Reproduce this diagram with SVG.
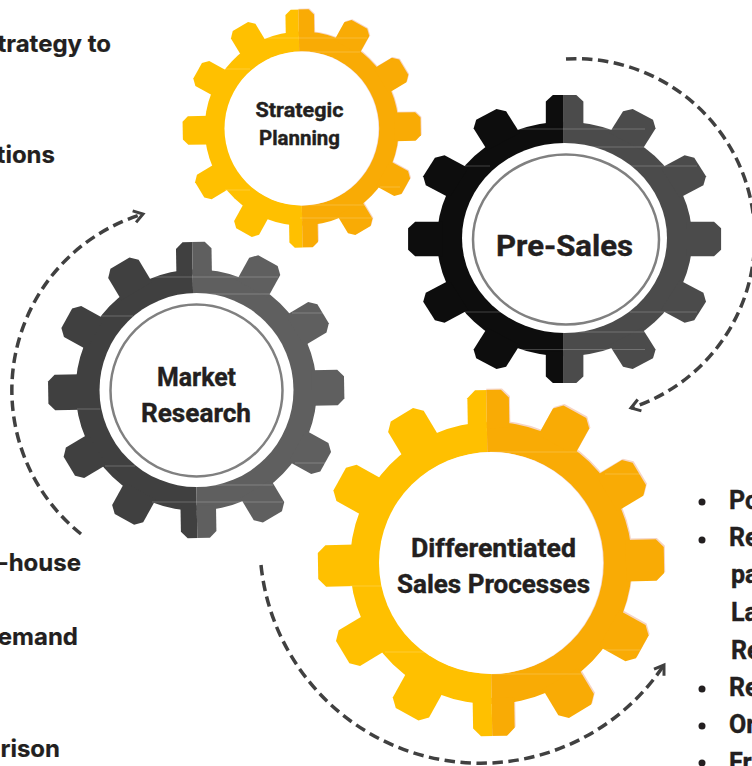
<svg xmlns="http://www.w3.org/2000/svg" width="752" height="766" viewBox="0 0 752 766">
  <style>
    text { font-family: Roboto, "Liberation Sans", sans-serif; font-weight: 700; fill: #231F20; stroke: #231F20; stroke-width: .4px; }
    .side { font-family: Inter, Roboto, sans-serif; font-size: 24px; text-anchor: end; stroke-width: .2px; }
    .list { font-size: 25px; }
    .lbl { text-anchor: middle; }
    .arc { fill: none; stroke: #404040; stroke-width: 3.5; stroke-dasharray: 10.500 5.500; }
    .seam { stroke: #fff; stroke-opacity: .22; stroke-width: 1; fill: none; }
    .seamy { stroke: #fff; stroke-opacity: .2; stroke-width: 1; fill: none; }
    .ring { fill: none; stroke: #808080; stroke-width: 2.500; }
    .bullet { fill: #231F20; }
  </style>
  <defs>
    <path id="tooth" d="M-12-78V-95.500L-7.500-100H7.500L12-95.500V-78Z"/>
    <g id="gear">
      <circle r="81.500"/>
      <use href="#tooth"/>
      <use href="#tooth" transform="rotate(30)"/>
      <use href="#tooth" transform="rotate(60)"/>
      <use href="#tooth" transform="rotate(90)"/>
      <use href="#tooth" transform="rotate(120)"/>
      <use href="#tooth" transform="rotate(150)"/>
      <use href="#tooth" transform="rotate(180)"/>
      <use href="#tooth" transform="rotate(210)"/>
      <use href="#tooth" transform="rotate(240)"/>
      <use href="#tooth" transform="rotate(270)"/>
      <use href="#tooth" transform="rotate(300)"/>
      <use href="#tooth" transform="rotate(330)"/>
    </g>
    <clipPath id="leftHalf"><rect x="-110" y="-110" width="109" height="220"/></clipPath>
    <clipPath id="rightHalf"><rect x="-1" y="-110" width="111" height="220"/></clipPath>
    <marker id="chev" markerUnits="userSpaceOnUse" markerWidth="18" markerHeight="18" refX="13" refY="9" orient="auto">
      <path d="M4 3L13 9L4 15" fill="none" stroke="#404040" stroke-width="3"/>
    </marker>
  </defs>

  <g id="connectors">
    <path class="arc" marker-end="url(#chev)" d="M566 59A179 179 0 0 1 631 408"/>
    <path class="arc" marker-end="url(#chev)" d="M81 534A184 184 0 0 1 143 214"/>
    <path class="arc" marker-end="url(#chev)" d="M261 565A220.600 220.600 0 0 0 664 665"/>
  </g>

  <g id="strategic-planning">
    <g transform="translate(301.700 128.500) rotate(-1) scale(1.190)">
      <g clip-path="url(#rightHalf)"><use href="#gear" fill="#F6D5C5" transform="translate(.7 -.7)"/></g>
      <g clip-path="url(#leftHalf)"><use href="#gear" fill="#FFC000"/></g>
      <g clip-path="url(#rightHalf)"><use href="#gear" fill="#F9AB05"/></g>
    </g>
    <circle cx="302.200" cy="128.500" r="77" fill="#F3D6CC"/>
    <circle cx="301.500" cy="128.500" r="77" fill="#fff"/>
    <path class="seamy" d="M265 38H367M300 52H360M225 69H250M225 190H250M380 187H400M300 205H365M300 218H372"/>
    <text class="lbl" x="299.500" y="117" font-size="20.500" textLength="88" lengthAdjust="spacingAndGlyphs">Strategic</text>
    <text class="lbl" x="299.500" y="145" font-size="20.500" textLength="81" lengthAdjust="spacingAndGlyphs">Planning</text>
  </g>

  <g id="pre-sales">
    <g transform="translate(564.600 239) scale(1.565 1.440)">
      <g clip-path="url(#leftHalf)"><use href="#gear" fill="#0D0D0D"/></g>
      <g clip-path="url(#rightHalf)"><use href="#gear" fill="#4B4B4B"/></g>
    </g>
    <ellipse cx="564.500" cy="238" rx="102.500" ry="95" fill="#fff"/>
    <ellipse class="ring" cx="566" cy="239.500" rx="93" ry="85"/>
    <path class="seam" d="M517 129H645M590 147H645M465 166H490M630 166H697M465 312H500M630 312H697M563 332H645M517 349.500H645"/>
    <text class="lbl" x="564.500" y="256" font-size="30" textLength="137" lengthAdjust="spacingAndGlyphs">Pre-Sales</text>
  </g>

  <g id="market-research">
    <g transform="translate(196.200 390) rotate(-1) scale(1.480)">
      <g clip-path="url(#leftHalf)"><use href="#gear" fill="#404040"/></g>
      <g clip-path="url(#rightHalf)"><use href="#gear" fill="#5F5F5F"/></g>
    </g>
    <circle cx="196.500" cy="390" r="97" fill="#fff"/>
    <circle class="ring" cx="196.500" cy="390.500" r="86"/>
    <path class="seam" d="M150 277H278M193 294H270M100 316H133M292 313H325M77 409H100M105 466H135M295 463H330M197 485H273M152 502H283"/>
    <text class="lbl" x="196.500" y="386" font-size="26" textLength="79" lengthAdjust="spacingAndGlyphs">Market</text>
    <text class="lbl" x="196" y="422" font-size="26" textLength="110" lengthAdjust="spacingAndGlyphs">Research</text>
  </g>

  <g id="differentiated-sales-processes">
    <g transform="translate(491 563) rotate(-1) scale(1.730)">
      <g clip-path="url(#rightHalf)"><use href="#gear" fill="#F6D5C5" transform="translate(.6 -.8)"/></g>
      <g clip-path="url(#leftHalf)"><use href="#gear" fill="#FFC000"/></g>
      <g clip-path="url(#rightHalf)"><use href="#gear" fill="#F9AB05"/></g>
    </g>
    <ellipse cx="491.800" cy="563" rx="112" ry="111" fill="#F3D6CC"/>
    <ellipse cx="491" cy="563" rx="112" ry="111" fill="#fff"/>
    <path class="seamy" d="M490 452H580M605 474H640M350 586H382M605 650H640M385 652H425M491 674H582"/>
    <text class="lbl" x="493.500" y="557" font-size="26" textLength="165" lengthAdjust="spacingAndGlyphs">Differentiated</text>
    <text class="lbl" x="493.500" y="593" font-size="26" textLength="193" lengthAdjust="spacingAndGlyphs">Sales Processes</text>
  </g>

  <g id="left-text">
    <text class="side" x="111" y="52">trategy to</text>
    <text class="side" x="55" y="163">tions</text>
    <text class="side" x="81" y="571">-house</text>
    <text class="side" x="78" y="645">emand</text>
    <text class="side" x="60" y="757">rison</text>
  </g>

  <g id="right-text">
    <circle class="bullet" cx="702" cy="502" r="3.500"/>
    <circle class="bullet" cx="702" cy="540" r="3.500"/>
    <circle class="bullet" cx="702" cy="689" r="3.500"/>
    <circle class="bullet" cx="702" cy="726" r="3.500"/>
    <circle class="bullet" cx="702" cy="763" r="3.500"/>
    <text class="list" x="729" y="509">Po</text>
    <text class="list" x="729" y="546">Re</text>
    <text class="list" x="731" y="583">pa</text>
    <text class="list" x="731" y="621">La</text>
    <text class="list" x="731" y="659">Re</text>
    <text class="list" x="729" y="696">Re</text>
    <text class="list" x="729" y="733">Or</text>
    <text class="list" x="729" y="771">Fr</text>
  </g>
</svg>
